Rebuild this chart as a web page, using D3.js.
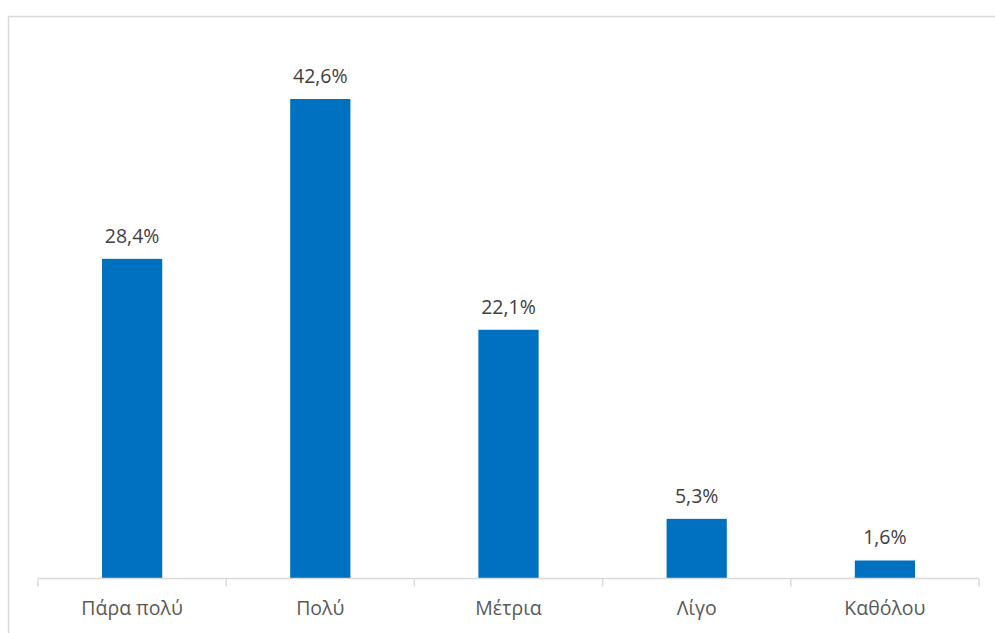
<!DOCTYPE html>
<html>
<head>
<meta charset="utf-8">
<script src="https://cdn.jsdelivr.net/npm/d3@7"></script>
<style>
  html, body { margin: 0; padding: 0; background: #fff; }
  svg { display: block; }
</style>
</head>
<body>
<svg id="chart" width="995" height="633"></svg>
<script>
// Response categories and their shares (%)
const categories = ["Πάρα πολύ", "Πολύ", "Μέτρια", "Λίγο", "Καθόλου"];
const values = [28.4, 42.6, 22.1, 5.3, 1.6];
const valueLabels = ["28,4%", "42,6%", "22,1%", "5,3%", "1,6%"];

const svg = d3.select("#chart");
const font = "'Open Sans', 'Noto Sans', sans-serif";

// Chart frame (light grey border, open at right and bottom)
svg.append("rect")
  .attr("x", 8.5).attr("y", 16.5)
  .attr("width", 1000).attr("height", 700)
  .attr("fill", "#fff")
  .attr("stroke", "#d9d9d9")
  .attr("stroke-width", 1.5);

const plot = { left: 38, right: 979, top: 72, bottom: 578.5 };

const x = d3.scaleBand()
  .domain(categories)
  .range([plot.left, plot.right])
  .paddingInner(0.68)
  .paddingOuter(0.34);

const y = d3.scaleLinear()
  .domain([0, 45])
  .range([plot.bottom, plot.top]);

// Bars
svg.append("g").selectAll("rect")
  .data(categories)
  .join("rect")
  .attr("x", (d) => x(d))
  .attr("y", (d, i) => y(values[i]))
  .attr("width", x.bandwidth())
  .attr("height", (d, i) => y(0) - y(values[i]))
  .attr("fill", "#0070C0");

// Category axis with ticks at category boundaries
const boundaries = d3.range(categories.length + 1).map((i) => plot.left + i * (plot.right - plot.left) / categories.length);
const axisG = svg.append("g");
axisG.append("line")
  .attr("x1", plot.left).attr("x2", plot.right)
  .attr("y1", plot.bottom).attr("y2", plot.bottom)
  .attr("stroke", "#d9d9d9").attr("stroke-width", 1.5);
axisG.selectAll("line.tick")
  .data(boundaries)
  .join("line")
  .attr("class", "tick")
  .attr("x1", (d) => d).attr("x2", (d) => d)
  .attr("y1", plot.bottom).attr("y2", plot.bottom + 8)
  .attr("stroke", "#d9d9d9").attr("stroke-width", 1.5);

axisG.selectAll("text")
  .data(categories)
  .join("text")
  .attr("x", (d) => x(d) + x.bandwidth() / 2)
  .attr("y", 615)
  .attr("text-anchor", "middle")
  .attr("font-family", font)
  .attr("font-size", 19.5)
  .attr("fill", "#595959")
  .text((d) => d);

// Value labels above bars
svg.append("g").selectAll("text")
  .data(categories)
  .join("text")
  .attr("x", (d) => x(d) + x.bandwidth() / 2)
  .attr("y", (d, i) => y(values[i]) - 16)
  .attr("text-anchor", "middle")
  .attr("font-family", font)
  .attr("font-size", 19.5)
  .attr("fill", "#404040")
  .text((d, i) => valueLabels[i]);
</script>
</body>
</html>
